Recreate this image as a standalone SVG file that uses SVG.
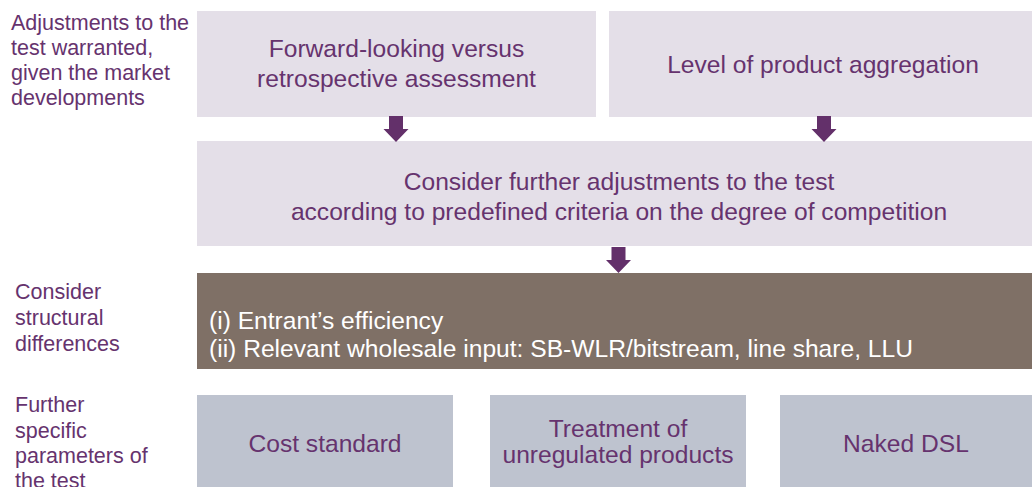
<svg xmlns="http://www.w3.org/2000/svg" width="1032" height="487" viewBox="0 0 1032 487">
  <defs>
    <style>
      .label { font-family: "Liberation Sans", Arial, sans-serif; font-size: 21.5px; fill: #66336E; }
      .boxtext { font-family: "Liberation Sans", Arial, sans-serif; font-size: 24.6px; fill: #66336E; text-anchor: middle; }
      .lightbox { fill: #E4DFE8; }
      .brownbox { fill: #7F7066; }
      .greybox { fill: #BEC3CF; }
      .whitetext { font-family: "Liberation Sans", Arial, sans-serif; font-size: 24.6px; fill: #FFFFFF; }
      .arrow { fill: #63306A; }
    </style>
    <!-- block arrow pointing down, origin at top centre -->
    <path id="downArrow" d="M -7 0 H 7 V 13 H 12.5 L 0 26 L -12.5 13 H -7 Z"/>
  </defs>

  <rect width="1032" height="487" fill="#FFFFFF"/>

  <!-- row labels -->
  <g id="label-adjustments">
    <text class="label" x="11" y="30">Adjustments to the</text>
    <text class="label" x="11" y="55">test warranted,</text>
    <text class="label" x="11" y="80">given the market</text>
    <text class="label" x="11" y="105">developments</text>
  </g>
  <g id="label-structural">
    <text class="label" x="15" y="299">Consider</text>
    <text class="label" x="15" y="325">structural</text>
    <text class="label" x="15" y="351">differences</text>
  </g>
  <g id="label-parameters">
    <text class="label" x="15" y="412">Further</text>
    <text class="label" x="15" y="438">specific</text>
    <text class="label" x="15" y="463">parameters of</text>
    <text class="label" x="15" y="488">the test</text>
  </g>

  <!-- top row -->
  <g id="node-forward-looking">
    <rect class="lightbox" x="197" y="11" width="399" height="106"/>
    <text class="boxtext" x="396.5" y="57">Forward-looking versus</text>
    <text class="boxtext" x="396.5" y="87">retrospective assessment</text>
  </g>
  <g id="node-aggregation">
    <rect class="lightbox" x="609" y="11" width="423" height="106"/>
    <text class="boxtext" x="823" y="73">Level of product aggregation</text>
  </g>

  <g id="node-further-adjustments">
    <rect class="lightbox" x="197" y="141" width="835" height="105"/>
    <text class="boxtext" x="619" y="190">Consider further adjustments to the test</text>
    <text class="boxtext" x="619" y="220">according to predefined criteria on the degree of competition</text>
  </g>

  <g id="node-structural">
    <rect class="brownbox" x="197" y="273" width="835" height="96"/>
    <text class="whitetext" x="209" y="329">(i) Entrant’s efficiency</text>
    <text class="whitetext" x="209" y="357">(ii) Relevant wholesale input: SB-WLR/bitstream, line share, LLU</text>
  </g>

  <!-- bottom row -->
  <g id="node-cost-standard">
    <rect class="greybox" x="197" y="395" width="256" height="92"/>
    <text class="boxtext" x="325" y="452">Cost standard</text>
  </g>
  <g id="node-unregulated">
    <rect class="greybox" x="490" y="395" width="256" height="92"/>
    <text class="boxtext" x="618" y="437">Treatment of</text>
    <text class="boxtext" x="618" y="463">unregulated products</text>
  </g>
  <g id="node-naked-dsl">
    <rect class="greybox" x="780" y="395" width="252" height="92"/>
    <text class="boxtext" x="906" y="452">Naked DSL</text>
  </g>

  <!-- connectors -->
  <g id="connectors">
    <use href="#downArrow" class="arrow" x="396" y="116"/>
    <use href="#downArrow" class="arrow" x="824" y="116"/>
    <use href="#downArrow" class="arrow" x="618.5" y="247"/>
  </g>
</svg>
